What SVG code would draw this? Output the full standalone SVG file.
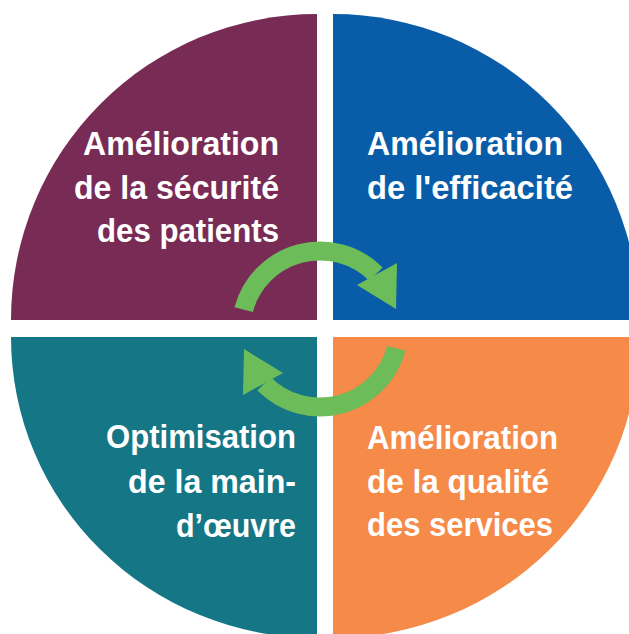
<svg xmlns="http://www.w3.org/2000/svg" width="629" height="634" viewBox="0 0 629 634">
  <style>
    .label { font-family: "Liberation Sans", Arial, sans-serif; font-weight: bold; font-size: 34px; fill: #ffffff; }
    .end { text-anchor: end; }
    .cycle { fill: none; stroke: #6cbd5a; stroke-width: 19; stroke-linecap: butt; }
    .head { fill: #6cbd5a; }
  </style>
  <defs>
    <!-- one curved arrow, drawn around the origin (centre of the wheel) -->
    <g id="turn">
      <path class="cycle" d="M -76.3 -19.4 A 79 79 0 0 1 55.9 -54.9"/>
      <polygon class="head" points="37,-44 77,-66 76,-20"/>
    </g>
  </defs>
  <rect width="629" height="634" fill="#ffffff"/>

  <!-- top-left quarter -->
  <g id="securite">
    <path d="M317 320 L11 320 A306 306 0 0 1 317 14 Z" fill="#782b55"/>
    <text class="label end" x="279" y="155" textLength="196" lengthAdjust="spacingAndGlyphs">Amélioration</text>
    <text class="label end" x="279" y="199" textLength="205" lengthAdjust="spacingAndGlyphs">de la sécurité</text>
    <text class="label end" x="279" y="242" textLength="182" lengthAdjust="spacingAndGlyphs">des patients</text>
  </g>

  <!-- top-right quarter -->
  <g id="efficacite">
    <path d="M333 320 L333 14 A306 306 0 0 1 639 320 Z" fill="#085ca8"/>
    <text class="label" x="367" y="155" textLength="196" lengthAdjust="spacingAndGlyphs">Amélioration</text>
    <text class="label" x="367" y="199" textLength="206" lengthAdjust="spacingAndGlyphs">de l'efficacité</text>
  </g>

  <!-- bottom-left quarter -->
  <g id="main-oeuvre">
    <path d="M317 337 L317 638 A306 301 0 0 1 11 337 Z" fill="#157686"/>
    <text class="label end" x="296" y="448" textLength="190" lengthAdjust="spacingAndGlyphs">Optimisation</text>
    <text class="label end" x="296" y="493" textLength="168" lengthAdjust="spacingAndGlyphs">de la main-</text>
    <text class="label end" x="296" y="537" textLength="120" lengthAdjust="spacingAndGlyphs">d’œuvre</text>
  </g>

  <!-- bottom-right quarter -->
  <g id="qualite">
    <path d="M333 337 L639 337 A306 301 0 0 1 333 638 Z" fill="#f58a49"/>
    <text class="label" x="367" y="449" textLength="191" lengthAdjust="spacingAndGlyphs">Amélioration</text>
    <text class="label" x="367" y="493" textLength="182" lengthAdjust="spacingAndGlyphs">de la qualité</text>
    <text class="label" x="367" y="536" textLength="186" lengthAdjust="spacingAndGlyphs">des services</text>
  </g>

  <!-- cycle arrows -->
  <g id="connectors">
    <use href="#turn" transform="translate(320 329)"/>
    <use href="#turn" transform="translate(320 329) rotate(180)"/>
  </g>
</svg>
